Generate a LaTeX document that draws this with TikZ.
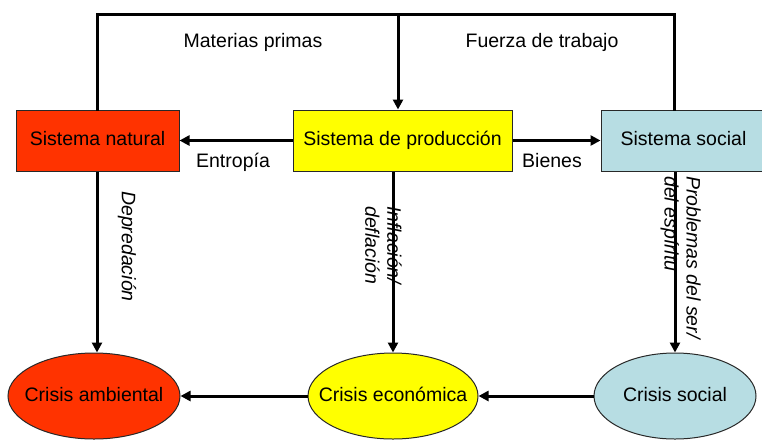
\documentclass[tikz,border=0pt]{standalone}
\usepackage{fontspec}
\setmainfont{Liberation Sans}
\usetikzlibrary{arrows.meta,shapes.geometric}
\definecolor{cred}{RGB}{255,51,0}
\definecolor{cyel}{RGB}{255,255,0}
\definecolor{cblue}{RGB}{183,221,227}
\definecolor{cborder}{RGB}{40,40,40}
\tikzset{
  txt/.style={font=\fontsize{19.5}{21}\selectfont, inner sep=0pt, text height=14pt, text depth=4pt},
  sysbox/.style={draw=cborder, line width=1pt, rectangle, minimum height=61pt, txt},
  crisis/.style={draw=cborder, line width=1pt, ellipse, minimum height=86pt, inner sep=0pt, txt},
  conn/.style={line width=3pt, line cap=rect},
  arr/.style={line width=3pt, -{Triangle[length=10pt,width=10pt]}},
  vlab/.style={font=\fontsize{19.5}{22}\selectfont\itshape, inner sep=0pt, rotate=-90, align=left},
}
\begin{document}
\begin{tikzpicture}[x=1pt,y=-1pt]
\useasboundingbox (0,0) rectangle (762,440);
% labels
\node[txt] (mp) at (253,42) {Materias primas};
\node[txt] (ft) at (542,42) {Fuerza de trabajo};
\node[txt] (en) at (233,162) {Entropía};
\node[txt] (bi) at (552,162) {Bienes};
\node[vlab, anchor=west] (dep) at (127,191) {Depredación};
\node[vlab, anchor=north west] (inf) at (402,206) {Inflación/\\deflación};
\node[vlab, anchor=north west] (pro) at (701,176) {Problemas del ser/\\del espíritu};
% boxes
\node[sysbox, fill=cred, minimum width=163pt] (nat) at (97.5,140.5) {Sistema natural};
\node[sysbox, fill=cyel, minimum width=219pt] (prod) at (402.5,140.5) {Sistema de producción};
\node[sysbox, fill=cblue, minimum width=165pt] (soc) at (683.5,140.5) {Sistema social};
% ellipses
\node[crisis, fill=cred, minimum width=172pt] (amb) at (94,396) {\makebox[0pt]{Crisis ambiental}};
\node[crisis, fill=cyel, minimum width=170pt] (eco) at (393,396) {\makebox[0pt]{Crisis económica}};
\node[crisis, fill=cblue, minimum width=162pt] (cso) at (675,396) {\makebox[0pt]{Crisis social}};
% top connector
\coordinate (tl) at (97,14);
\coordinate (tm) at (398,14);
\coordinate (tr) at (674,14);
\draw[conn] (nat.north -| tl) -- (tl) -- (tr) -- (soc.north -| tr);
\draw[arr] (tm) -- (prod.north -| tm);
% horizontal arrows
\draw[arr] (prod.west) -- (nat.east);
\draw[arr] (prod.east) -- (soc.west);
% vertical arrows
\draw[arr] (nat.south -| tl) -- (amb.north -| tl);
\draw[arr] (prod.south -| eco.north) -- (eco.north);
\draw[arr] (soc.south -| cso.north) -- (cso.north);
% bottom arrows
\draw[arr] (eco.west) -- (amb.east);
\draw[arr] (cso.west) -- (eco.east);
\end{tikzpicture}
\end{document}
